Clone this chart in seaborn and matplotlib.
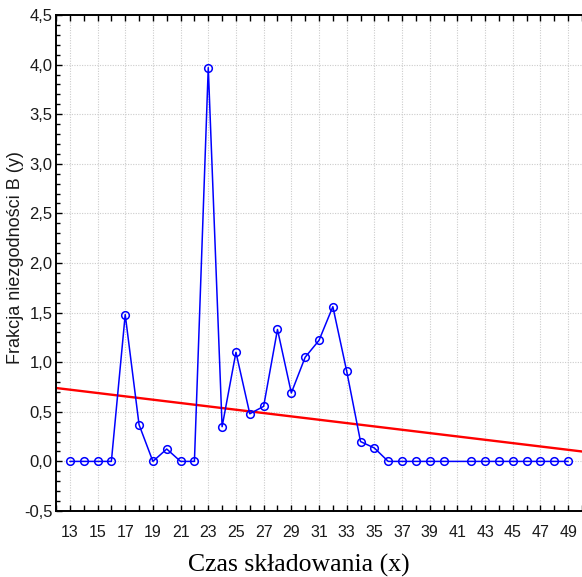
import matplotlib
matplotlib.use("Agg")
import matplotlib.pyplot as plt
from matplotlib.ticker import MultipleLocator, FixedLocator
import seaborn as sns
import pandas as pd

# ---- data ----
x_vals = [13, 14, 15, 16, 17, 18, 19, 20, 21, 22, 23, 24, 25, 26, 27, 28, 29,
          30, 31, 32, 33, 34, 35, 36, 37, 38, 39, 40, 42, 43, 44, 45, 46, 47, 48, 49]
y_vals = [0.0, 0.0, 0.0, 0.0, 1.48, 0.37, 0.0, 0.125, 0.0, 0.0, 3.97, 0.35, 1.10,
          0.48, 0.555, 1.33, 0.69, 1.05, 1.22, 1.56, 0.91, 0.20, 0.135, 0.0, 0.0,
          0.0, 0.0, 0.0, 0.0, 0.0, 0.0, 0.0, 0.0, 0.0, 0.0, 0.0]
fit_x = [12, 50]
fit_y = [0.74, 0.10]
x_ticks = list(range(13, 50, 2))
y_ticks = [-0.5, 0.0, 0.5, 1.0, 1.5, 2.0, 2.5, 3.0, 3.5, 4.0, 4.5]
y_tick_labels = ["-0,5", "0,0", "0,5", "1,0", "1,5", "2,0", "2,5", "3,0", "3,5", "4,0", "4,5"]
x_label = "Czas składowania (x)"
y_label = "Frakcja niezgodności B (y)"

df = pd.DataFrame({"x": x_vals, "y": y_vals})
df_fit = pd.DataFrame({"x": fit_x, "y": fit_y})

sns.set_style("white")
plt.rcParams["font.family"] = ["Liberation Sans", "DejaVu Sans"]

fig = plt.figure(figsize=(5.82, 5.77), dpi=100)
ax = fig.add_axes([56 / 582, 66 / 577, 1 - 56 / 582, 496 / 577])

sns.lineplot(data=df_fit, x="x", y="y", ax=ax, color="#ff0000", linewidth=1.7,
             zorder=2)
sns.lineplot(data=df, x="x", y="y", ax=ax, color="#0000ff", linewidth=1.1,
             marker="o", markersize=5.5, markerfacecolor="none",
             markeredgecolor="#0000ff", markeredgewidth=1.1, zorder=3)

ax.set_xlim(12, 50)
ax.set_ylim(-0.5, 4.5)

ax.xaxis.set_major_locator(FixedLocator(x_ticks))
ax.xaxis.set_minor_locator(MultipleLocator(1))
ax.yaxis.set_major_locator(FixedLocator(y_ticks))
ax.yaxis.set_minor_locator(MultipleLocator(0.1))
ax.set_xticklabels([str(v) for v in x_ticks])
ax.set_yticklabels(y_tick_labels)

ax.grid(True, which="major", color="#cccccc", linestyle=(0, (1.0, 1.3)), linewidth=0.8)
ax.set_axisbelow(True)

ax.tick_params(axis="x", which="both", direction="in", top=True, bottom=True,
               length=4, width=1.0, color="black", pad=10, labelsize=11.5,
               labelcolor="#1a1a1a")
ax.tick_params(axis="y", which="major", direction="in", left=True, right=False,
               length=4, width=1.0, color="black", pad=2.5, labelsize=12,
               labelcolor="#1a1a1a")
ax.tick_params(axis="y", which="minor", direction="in", left=True, right=False,
               length=3, width=1.0, color="black")

for side in ["left", "bottom", "top"]:
    ax.spines[side].set_visible(True)
    ax.spines[side].set_color("black")
    ax.spines[side].set_linewidth(1.4)
ax.spines["right"].set_visible(False)

ax.set_xlabel("")
ax.set_ylabel("")

fig.text(16 / 582, 1 - 258 / 577, y_label, rotation=90, ha="center", va="center",
         fontsize=13, color="#1a1a1a",
         family=["Liberation Sans", "DejaVu Sans"])
fig.text(299 / 582, 1 - 572 / 577, x_label, ha="center", va="baseline",
         fontsize=18.5, color="black", family=["Liberation Serif", "DejaVu Serif"])

fig.savefig("out.png", dpi=100)
